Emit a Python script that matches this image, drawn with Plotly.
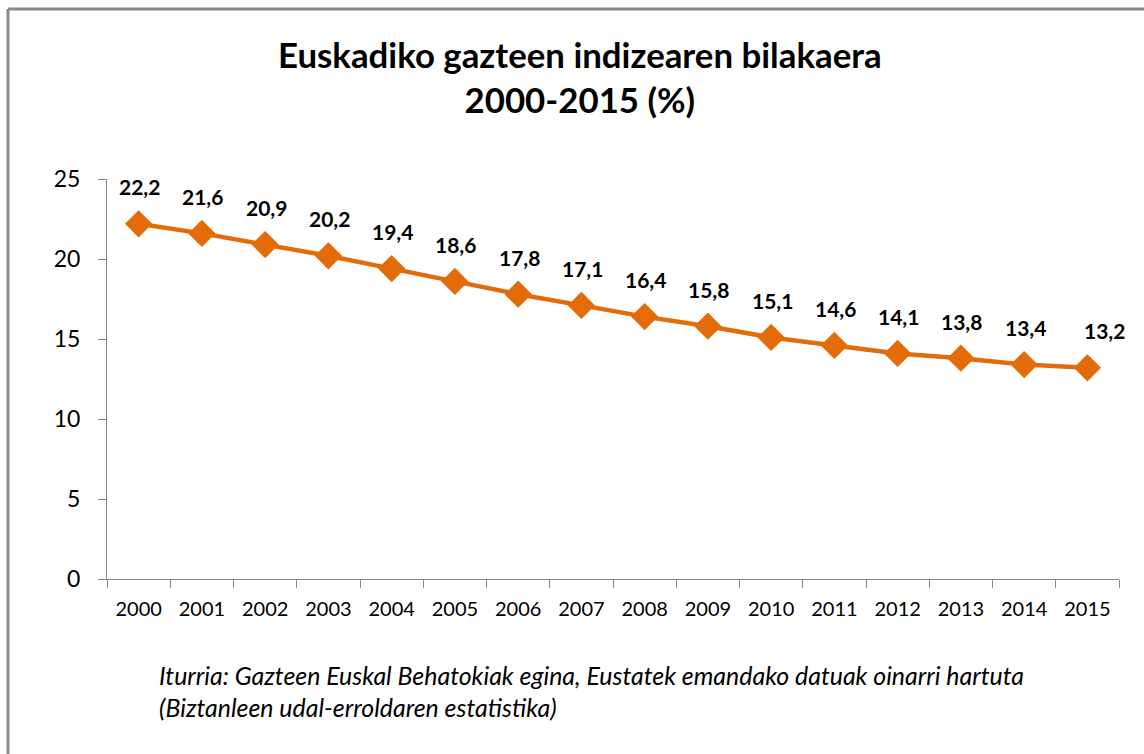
import plotly.graph_objects as go

years = [str(y) for y in range(2000, 2016)]
values = [22.2, 21.6, 20.9, 20.2, 19.4, 18.6, 17.8, 17.1, 16.4, 15.8, 15.1, 14.6, 14.1, 13.8, 13.4, 13.2]
labels = [f"{v:.1f}".replace(".", ",") for v in values]

title_text = "<b>Euskadiko gazteen indizearen bilakaera<br>2000-2015 (%)</b>"
source_text = ("<i>Iturria: Gazteen Euskal Behatokiak egina, Eustatek emandako datuak oinarri hartuta<br>"
               "(Biztanleen udal-erroldaren estatistika)</i>")

orange = "#E36C09"
axis_grey = "#868686"
font_family = "Lato, 'Open Sans', sans-serif"

W, H = 1144, 754
L, R, T, B = 107, 1119, 179, 579

fig = go.Figure()
fig.add_trace(go.Scatter(
    x=years, y=values, mode="lines+markers",
    line=dict(color=orange, width=4.5),
    marker=dict(symbol="diamond", size=21, color=orange),
    cliponaxis=False, hoverinfo="skip", showlegend=False,
))

for i, (y, t) in enumerate(zip(values, labels)):
    fig.add_annotation(
        x=i, y=y, xref="x", yref="y", text=f"<b>{t}</b>", showarrow=False,
        yshift=37, xshift=(17 if i == len(values) - 1 else 1),
        font=dict(family=font_family, size=21, color="black"),
    )

def px(xp):
    return (xp - L) / (R - L)

def py(yp):
    return (B - yp) / (B - T)

fig.add_annotation(
    xref="paper", yref="paper", x=px(580), y=py(77), text=title_text,
    showarrow=False, xanchor="center", yanchor="middle",
    font=dict(family=font_family, size=34.8, color="black"), align="center",
)
fig.add_annotation(
    xref="paper", yref="paper", x=px(157), y=py(691), text=source_text,
    showarrow=False, xanchor="left", yanchor="middle", align="left",
    font=dict(family=font_family, size=24.9, color="black"),
)

# chart frame (top and left edges visible)
fig.add_shape(type="line", xref="paper", yref="paper",
              x0=px(8), x1=px(8), y0=py(9), y1=py(760),
              line=dict(color="#8a8a8a", width=3))
fig.add_shape(type="line", xref="paper", yref="paper",
              x0=px(8), x1=px(1150), y0=py(9), y1=py(9),
              line=dict(color="#8a8a8a", width=3))

fig.update_layout(
    width=W, height=H,
    margin=dict(l=L, r=W - R, t=T, b=H - B),
    paper_bgcolor="white", plot_bgcolor="white",
    font=dict(family=font_family, size=18, color="black"),
    xaxis=dict(
        type="category", showgrid=False, showline=True, linecolor=axis_grey, linewidth=1,
        ticks="outside", tickson="boundaries", ticklen=8, tickcolor=axis_grey,
        tickfont=dict(size=20, color="black"), range=[-0.5, len(years) - 0.5],
        ticklabelstandoff=12,
    ),
    yaxis=dict(
        range=[0, 25], dtick=5, showgrid=False, showline=True, linecolor=axis_grey, linewidth=1,
        ticks="outside", ticklen=8, tickcolor=axis_grey, zeroline=False,
        tickfont=dict(size=23, color="black"), ticklabelstandoff=13,
    ),
)

fig.write_html("out.html", config={"displayModeBar": False},
               post_script="document.body.style.margin='0';")
